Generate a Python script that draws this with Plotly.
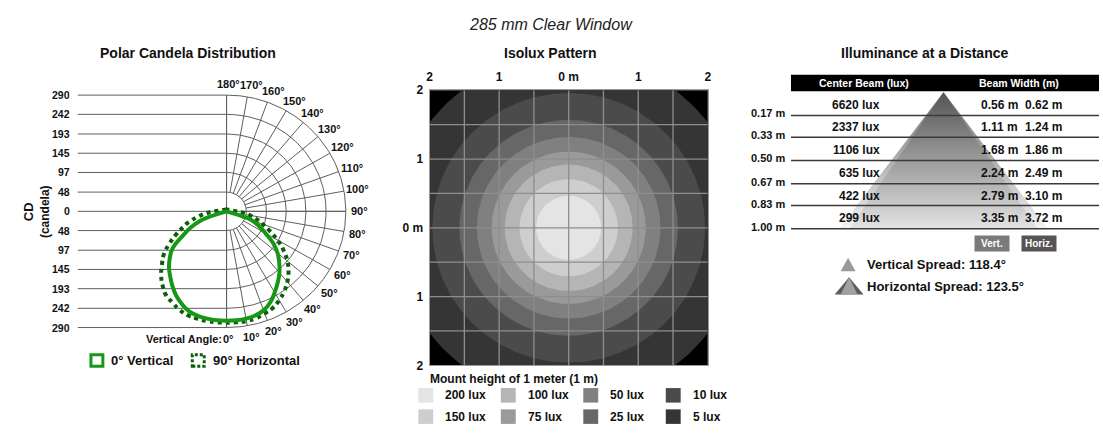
import numpy as np
import plotly.graph_objects as go

W, H = 1103, 443
FONT = "Arial, 'Liberation Sans', sans-serif"

# ---------------- data ----------------
main_title = "285 mm Clear Window"
panel_titles = ["Polar Candela Distribution", "Isolux Pattern", "Illuminance at a Distance"]

# Polar candela distribution
cd_ticks = [0, 48, 97, 145, 193, 242, 290]
angle_ticks = list(range(0, 181, 10))
curve_angles = [0, 5, 10, 15, 20, 25, 30, 35, 40, 45, 50, 55, 60, 65, 70, 72, 75,
                80, 85, 90, 100, 110, 120, 130, 140, 150, 160, 170, 180]
vert_right = [273, 273, 272, 269, 263, 251, 234, 217, 200, 181, 162, 138, 109, 87, 65, 42, 0,
              0, 0, 0, 0, 0, 0, 0, 0, 0, 0, 0, 0]
vert_left = [273, 273, 272, 270, 266, 256, 244, 229, 213, 198, 180, 160, 124, 97, 68, 45, 0,
             0, 0, 0, 0, 0, 0, 0, 0, 0, 0, 0, 0]
horiz_right = [278, 278, 278, 276, 271, 266, 256, 244, 230, 213, 193, 169, 143, 116, 94, 87, 75,
               58, 41, 24, 12, 9, 7, 6, 5, 5, 5, 5, 5]
horiz_left = [278, 278, 278, 277, 276, 271, 263, 256, 242, 225, 205, 186, 160, 135, 111, 104, 89,
              68, 48, 29, 14, 10, 7, 6, 5, 5, 5, 5, 5]
series_names = ["0° Vertical", "90° Horizontal"]

# Isolux pattern
lux_levels = [200, 150, 100, 75, 50, 25, 10, 5]
lux_radius_m = [0.467, 0.707, 0.92, 1.107, 1.32, 1.57, 1.96, 2.52]
lux_colors = ["#e4e4e4", "#cecece", "#b5b5b5", "#9a9a9a", "#808080", "#676767", "#4b4b4b", "#353535"]
isolux_ticks = [-2, -1, 0, 1, 2]
isolux_ticktext = ["2", "1", "0 m", "1", "2"]
isolux_grid = [-1.5, -1.0, -0.5, 0.0, 0.5, 1.0, 1.5]
mount_note = "Mount height of 1 meter (1 m)"

# Illuminance at a distance
dist_m = [0.17, 0.33, 0.50, 0.67, 0.83, 1.00]
dist_labels = ["0.17 m", "0.33 m", "0.50 m", "0.67 m", "0.83 m", "1.00 m"]
center_lux = [6620, 2337, 1106, 635, 422, 299]
beam_vert = [0.56, 1.11, 1.68, 2.24, 2.79, 3.35]
beam_horiz = [0.62, 1.24, 1.86, 2.49, 3.10, 3.72]
vert_spread = 118.4
horiz_spread = 123.5


def fx(x):
    return x / W


def fy(y):
    return 1 - y / H


def label(x, y, text, size=12, color="#111", xanchor="center", xref="paper", yref="paper", **kw):
    d = dict(x=x, y=y, xref=xref, yref=yref, text=text, showarrow=False,
             xanchor=xanchor, yanchor="middle", font=dict(size=size, color=color))
    d.update(kw)
    return d


fig = go.Figure()
ann = []
shapes = []

# ======================= Polar panel =======================
S = 120 / 290          # px per candela
CX, CY = 225, 211
P_X = (75, 372)
P_Y = (60, 362)
x1r = [(P_X[0] - CX) / S, (P_X[1] - CX) / S]
y1r = [-(P_Y[1] - CY) / S, (CY - P_Y[0]) / S]
rmax = cd_ticks[-1]
rin = cd_ticks[1]

gx, gy = [], []
for t in cd_ticks:
    for sgn in ([1] if t == 0 else [1, -1]):
        gx += [x1r[0], rmax if t == 0 else 0, None]
        gy += [sgn * t, sgn * t, None]
gx += [0, 0, None]
gy += [rmax, -rmax, None]
th = np.radians(np.linspace(0, 180, 181))
for t in cd_ticks[1:]:
    gx += list(t * np.sin(th)) + [None]
    gy += list(-t * np.cos(th)) + [None]
for a in angle_ticks:
    ar = np.radians(a)
    gx += [rin * np.sin(ar), rmax * np.sin(ar), None]
    gy += [-rin * np.cos(ar), -rmax * np.cos(ar), None]
fig.add_trace(go.Scatter(x=gx, y=gy, mode="lines", line=dict(color="#5e5e5e", width=1),
                         xaxis="x", yaxis="y", hoverinfo="skip", showlegend=False))


def polar_xy(right, left):
    ang = np.radians(curve_angles)
    r = np.array(right, float)
    l = np.array(left, float)
    xl = (-l * np.sin(ang))[::-1]
    yl = (-l * np.cos(ang))[::-1]
    xr = r * np.sin(ang)
    yr = -r * np.cos(ang)
    return np.concatenate([xl, xr]), np.concatenate([yl, yr])


hx, hy = polar_xy(horiz_right, horiz_left)
fig.add_trace(go.Scatter(x=hx, y=hy, mode="lines", name=series_names[1],
                         line=dict(color="#0b5e0b", width=4, dash="4px,4px", shape="spline", smoothing=1.3),
                         xaxis="x", yaxis="y", showlegend=False))
vx, vy = polar_xy(vert_right, vert_left)
fig.add_trace(go.Scatter(x=vx, y=vy, mode="lines", name=series_names[0],
                         line=dict(color="#169816", width=4, shape="spline", smoothing=1.3),
                         xaxis="x", yaxis="y", showlegend=False))

# candela tick labels
for t in cd_ticks:
    for sgn in ([1] if t == 0 else [1, -1]):
        ann.append(label(fx(69), sgn * t, f"<b>{t}</b>", size=10.5, xanchor="right", yref="y"))
# angle labels
RL = 132 / S
for a in angle_ticks:
    ar = np.radians(a)
    ann.append(label(RL * np.sin(ar), -RL * np.cos(ar), f"<b>{a}°</b>", size=11, xref="x", yref="y",
                     xshift=2))
ann.append(label(fx(222), -RL, "<b>Vertical Angle:</b>", size=11, xanchor="right", yref="y"))
ann.append(label(fx(34), fy(211), "<b><span style='font-size:13px'>CD</span><br>(candela)</b>",
                 size=12, textangle=-90))
# legend
shapes.append(dict(type="rect", xref="paper", yref="paper", x0=fx(88.5), x1=fx(100.5),
                   y0=fy(371), y1=fy(359), line=dict(color="#169816", width=3)))
shapes.append(dict(type="rect", xref="paper", yref="paper", x0=fx(190.5), x1=fx(202.5),
                   y0=fy(371), y1=fy(359), line=dict(color="#0b5e0b", width=3, dash="3px,2px")))
ann.append(label(fx(107), fy(365), f"<b>{series_names[0]}</b>", size=13, xanchor="left"))
ann.append(label(fx(209), fy(365), f"<b>{series_names[1]}</b>", size=13, xanchor="left"))

# ======================= Isolux panel =======================
I_X = (429.3, 709.3)
I_Y = (86, 370)
shapes.append(dict(type="rect", xref="x2 domain", yref="y2 domain", x0=0, x1=1, y0=0, y1=1,
                   fillcolor="#000000", line=dict(width=0), layer="below"))
tt = np.linspace(0, 2 * np.pi, 241)
for r, col in sorted(zip(lux_radius_m, lux_colors), key=lambda p: -p[0]):
    fig.add_trace(go.Scatter(x=r * np.cos(tt), y=r * np.sin(tt), mode="lines", fill="toself",
                             fillcolor=col, line=dict(width=0, color=col), xaxis="x2", yaxis="y2",
                             hoverinfo="skip", showlegend=False))
igx, igy = [], []
for g in isolux_grid:
    igx += [g, g, None]
    igy += [-2, 2, None]
    igx += [-2, 2, None]
    igy += [g, g, None]
fig.add_trace(go.Scatter(x=igx, y=igy, mode="lines", line=dict(color="#8e8e8e", width=1.3),
                         xaxis="x2", yaxis="y2", hoverinfo="skip", showlegend=False))
ann.append(label(fx(428), fy(384), f"<b>{mount_note}</b>", size=12, xanchor="left"))
for i, (lv, col) in enumerate(zip(lux_levels, lux_colors)):
    c, rw = i // 2, i % 2
    x0 = 418 + c * 83
    yc = 401 + rw * 22
    shapes.append(dict(type="rect", xref="paper", yref="paper", x0=fx(x0), x1=fx(x0 + 15),
                       y0=fy(yc + 7.5), y1=fy(yc - 7.5), fillcolor=col, line=dict(width=0)))
    ann.append(label(fx(x0 + 25), fy(yc), f"<b>{lv} lux</b>", size=12, xanchor="left"))

# ======================= Illuminance panel =======================
K = 56.5             # px per metre of beam width
AX, AY = 946.5, 88   # apex position
DY = 141             # px per metre of distance
L_X = (793, 1103)
L_Y = (60, 245)
x3r = [(L_X[0] - AX) / K, (L_X[1] - AX) / K]
y3r = [(L_Y[1] - AY) / DY, (L_Y[0] - AY) / DY]

for widths, cs in ((beam_horiz, [[0, "#f4f4f4"], [1, "#6c6c6c"]]),
                   (beam_vert, [[0, "#e3e3e3"], [1, "#545454"]])):
    half = widths[-1] / 2
    fig.add_trace(go.Scatter(x=[0, -half, half, 0], y=[0, dist_m[-1], dist_m[-1], 0], mode="lines",
                             fill="toself", line=dict(width=0),
                             fillgradient=dict(type="vertical", colorscale=cs),
                             xaxis="x3", yaxis="y3", hoverinfo="skip", showlegend=False))
lx, ly = [], []
for d in dist_m:
    lx += [x3r[0], x3r[1], None]
    ly += [d, d, None]
fig.add_trace(go.Scatter(x=lx, y=ly, mode="lines", line=dict(color="#3a3a3a", width=1.5),
                         xaxis="x3", yaxis="y3", hoverinfo="skip", showlegend=False))

shapes.append(dict(type="rect", xref="paper", yref="paper", x0=fx(793), x1=fx(1103),
                   y0=fy(87), y1=fy(70), fillcolor="#000000", line=dict(width=0)))
ann.append(label(fx(867), fy(78.5), "<b>Center Beam (lux)</b>", size=10.5, color="white"))
ann.append(label(fx(1022), fy(78.5), "<b>Beam Width (m)</b>", size=10.5, color="white"))
prev = 0.0
for d, lab, lx_, bv, bh in zip(dist_m, dist_labels, center_lux, beam_vert, beam_horiz):
    mid = (prev + d) / 2
    ann.append(label(fx(789), d, f"<b>{lab}</b>", size=11, xanchor="right", yref="y3", yshift=2))
    ann.append(label(fx(885), mid, f"<b>{lx_} lux</b>", size=12, xanchor="right", yref="y3", yshift=-1))
    ann.append(label(fx(982), mid, f"<b>{bv:.2f} m</b>", size=12, xanchor="left", yref="y3", yshift=-1))
    ann.append(label(fx(1027), mid, f"<b>{bh:.2f} m</b>", size=12, xanchor="left", yref="y3", yshift=-1))
    prev = d

ann.append(label(fx(995), fy(244.5), "<b>Vert.</b>", size=10, color="white",
                 bgcolor="#7a7a7a", width=30, height=11, borderpad=2))
ann.append(label(fx(1043), fy(244.5), "<b>Horiz.</b>", size=10, color="white",
                 bgcolor="#555555", width=30, height=11, borderpad=2))


def tri_path(xl, xr, yt, yb):
    xm = (xl + xr) / 2
    return f"M {fx(xm)} {fy(yt)} L {fx(xl)} {fy(yb)} L {fx(xr)} {fy(yb)} Z"


shapes.append(dict(type="path", xref="paper", yref="paper", path=tri_path(843, 858, 259, 273),
                   fillcolor="#9a9a9a", line=dict(width=0)))
shapes.append(dict(type="path", xref="paper", yref="paper", path=tri_path(837, 866, 279, 297),
                   fillcolor="#5c5c5c", line=dict(width=0)))
shapes.append(dict(type="path", xref="paper", yref="paper", path=tri_path(843, 860, 279, 297),
                   fillcolor="#a0a0a0", line=dict(width=0)))
ann.append(label(fx(868), fy(266), f"<b>Vertical Spread: {vert_spread}°</b>", size=13, xanchor="left"))
ann.append(label(fx(868), fy(289), f"<b>Horizontal Spread: {horiz_spread}°</b>", size=13, xanchor="left"))

# ======================= Titles =======================
ann.append(label(0.5, fy(18), f"<i>{main_title}</i>", size=16, color="#222"))
for t, xc in zip(panel_titles, (186, 551, 927)):
    ann.append(label(fx(xc), fy(48), f"<b>{t}</b>", size=14))

hidden = dict(visible=False, showgrid=False, zeroline=False, fixedrange=True)
fig.update_layout(
    width=W, height=H, margin=dict(l=0, r=0, t=0, b=0),
    paper_bgcolor="white", plot_bgcolor="rgba(0,0,0,0)",
    font=dict(family=FONT, color="#111"),
    showlegend=False,
    xaxis=dict(domain=[fx(P_X[0]), fx(P_X[1])], range=x1r, anchor="y", **hidden),
    yaxis=dict(domain=[fy(P_Y[1]), fy(P_Y[0])], range=y1r, anchor="x", **hidden),
    xaxis2=dict(domain=[fx(I_X[0]), fx(I_X[1])], range=[-2, 2], anchor="y2", side="top",
                tickvals=isolux_ticks, ticktext=[f"<b>{t}</b>" for t in isolux_ticktext],
                showgrid=False, zeroline=False, ticks="", tickfont=dict(size=12, color="#111"),
                ticklabelstandoff=3,
                showline=True, mirror=True, linecolor="#9a9a9a", linewidth=1, fixedrange=True),
    yaxis2=dict(domain=[fy(I_Y[1]), fy(I_Y[0])], range=[-2, 2], anchor="x2",
                tickvals=isolux_ticks, ticktext=[f"<b>{t}</b>" for t in isolux_ticktext],
                showgrid=False, zeroline=False, ticks="", tickfont=dict(size=12, color="#111"),
                ticklabelstandoff=3,
                showline=True, mirror=True, linecolor="#9a9a9a", linewidth=1, fixedrange=True),
    xaxis3=dict(domain=[fx(L_X[0]), fx(L_X[1])], range=x3r, anchor="y3", **hidden),
    yaxis3=dict(domain=[fy(L_Y[1]), fy(L_Y[0])], range=y3r, anchor="x3", **hidden),
    annotations=ann, shapes=shapes,
)

fig.write_html("out.html", config={"displayModeBar": False},
               post_script="document.body.style.margin='0';")
